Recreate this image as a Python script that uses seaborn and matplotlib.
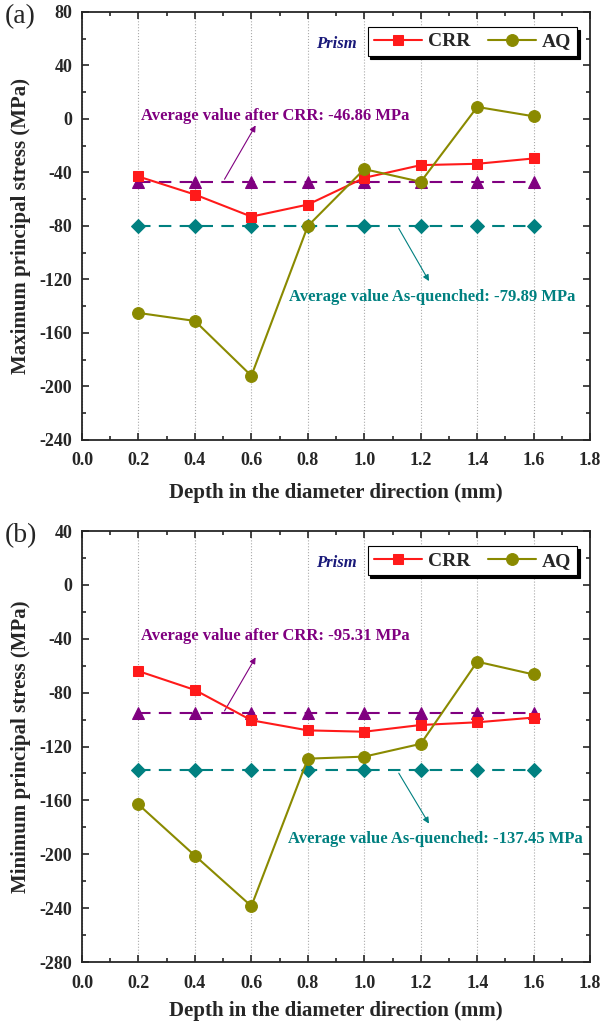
import matplotlib
matplotlib.use("Agg")
import matplotlib.pyplot as plt
import numpy as np
import seaborn as sns
from matplotlib.ticker import MultipleLocator, FormatStrFormatter

# depth positions (mm)
depth = [0.2, 0.4, 0.6, 0.8, 1.0, 1.2, 1.4, 1.6]

# (a) maximum principal stress (MPa)
max_crr = [-43, -56.5, -73, -64, -44, -34.5, -33.5, -29.5]
max_aq = [-145, -151, -192, -80, -37.5, -47, 9, 2]
max_avg_crr = -46.86
max_avg_aq = -79.89

# (b) minimum principal stress (MPa)
min_crr = [-64, -78, -100.5, -108, -109, -104, -102, -98.5]
min_aq = [-163, -201, -238.5, -129, -127.5, -118, -57, -66.5]
min_avg_crr = -95.31
min_avg_aq = -137.45

RED = "#ff1a1a"
OLIVE = "#8a8a00"
PURPLE = "#800080"
TEAL = "#008080"
NAVY = "#1a1a7a"

sns.set_style("ticks")
plt.rcParams['font.family'] = ['Liberation Serif', 'DejaVu Serif']
plt.rcParams['font.weight'] = 'bold'
plt.rcParams['axes.labelweight'] = 'bold'
plt.rcParams['axes.unicode_minus'] = False

fig = plt.figure(figsize=(6.05, 10.23), dpi=100)


def draw_panel(ax, crr, aq, avg_crr, avg_aq, ylim, ystep, ylabel, letter,
               crr_text_xy, crr_arrow, aq_text_xy, aq_arrow, xlabelpad=10):
    n = len(depth)
    sns.lineplot(x=depth, y=np.full(n, avg_crr), ax=ax, color=PURPLE, lw=1.5,
                 linestyle=(0, (6, 4)), marker="^", markersize=8.5,
                 markeredgecolor=PURPLE, zorder=3)
    sns.lineplot(x=depth, y=np.full(n, avg_aq), ax=ax, color=TEAL, lw=1.5,
                 linestyle=(0, (6, 4)), marker="D", markersize=7.5,
                 markeredgecolor=TEAL, zorder=3)
    sns.lineplot(x=depth, y=crr, ax=ax, color=RED, lw=1.5, marker="s",
                 markersize=7.5, markeredgecolor=RED, label="CRR", zorder=4)
    sns.lineplot(x=depth, y=aq, ax=ax, color=OLIVE, lw=1.5, marker="o",
                 markersize=8.5, markeredgecolor=OLIVE, label="AQ", zorder=5)

    ax.set_xlim(0, 1.8)
    ax.set_ylim(*ylim)
    ax.xaxis.set_major_locator(MultipleLocator(0.2))
    ax.xaxis.set_minor_locator(MultipleLocator(0.1))
    ax.xaxis.set_major_formatter(FormatStrFormatter('%.1f'))
    ax.yaxis.set_major_locator(MultipleLocator(ystep))
    ax.yaxis.set_minor_locator(MultipleLocator(ystep / 2))
    ax.tick_params(which='both', direction='in', top=True, right=True,
                   labelsize=13, width=1.2)
    ax.tick_params(which='major', length=5)
    ax.tick_params(which='minor', length=3)
    ax.tick_params(axis='x', pad=9)
    ax.tick_params(axis='y', pad=7)
    for s in ax.spines.values():
        s.set_linewidth(1.3)
    ax.grid(axis='x', which='major', linestyle=':', color='#aaaaaa', lw=0.8)

    ax.set_xlabel("Depth in the diameter direction (mm)", fontsize=15,
                  labelpad=xlabelpad)
    ax.set_ylabel(ylabel, fontsize=15, labelpad=6)

    leg = ax.legend(loc='upper right', bbox_to_anchor=(0.975, 0.965), ncol=2,
                    fontsize=14, frameon=True, fancybox=False,
                    shadow={'color': 'black', 'alpha': 1},
                    handlelength=2.5, columnspacing=0.9, borderpad=0.3,
                    handletextpad=0.3, borderaxespad=0)
    leg.get_frame().set_edgecolor('black')
    leg.get_frame().set_linewidth(0.8)
    ax.text(0.5, 0.926, "Prism", transform=ax.transAxes, color=NAVY,
            fontsize=12, style='italic', fontweight='bold', ha='center',
            va='center')

    ax.annotate("", xy=crr_arrow[1], xytext=crr_arrow[0],
                arrowprops=dict(arrowstyle='-|>', color=PURPLE, lw=0.8,
                                mutation_scale=9))
    ax.text(crr_text_xy[0], crr_text_xy[1],
            f"Average value after CRR: {avg_crr:.2f} MPa", color=PURPLE,
            fontsize=12, ha='center', va='center')
    ax.annotate("", xy=aq_arrow[1], xytext=aq_arrow[0],
                arrowprops=dict(arrowstyle='-|>', color=TEAL, lw=0.8,
                                mutation_scale=9))
    ax.text(aq_text_xy[0], aq_text_xy[1],
            f"Average value As-quenched: {avg_aq:.2f} MPa", color=TEAL,
            fontsize=12, ha='center', va='center')

    ax.text(-0.152, 0.99, letter, transform=ax.transAxes, fontsize=20,
            fontweight='normal', ha='left', va='center')


ax1 = fig.add_axes([0.1355, 0.5699, 0.840, 0.4184])
draw_panel(ax1, max_crr, max_aq, max_avg_crr, max_avg_aq, (-240, 80), 40,
           "Maximum principal stress (MPa)", "(a)",
           (0.685, 2), ((0.50, -46.86), (0.62, -3)),
           (1.24, -133), ((1.117, -80), (1.234, -123)))

ax2 = fig.add_axes([0.1355, 0.0596, 0.840, 0.4213])
draw_panel(ax2, min_crr, min_aq, min_avg_crr, min_avg_aq, (-280, 40), 40,
           "Minimum principal stress (MPa)", "(b)",
           (0.685, -38), ((0.50, -95.31), (0.62, -52)),
           (1.25, -189), ((1.117, -138), (1.234, -179)), xlabelpad=7)

fig.savefig("out.png", dpi=100)
